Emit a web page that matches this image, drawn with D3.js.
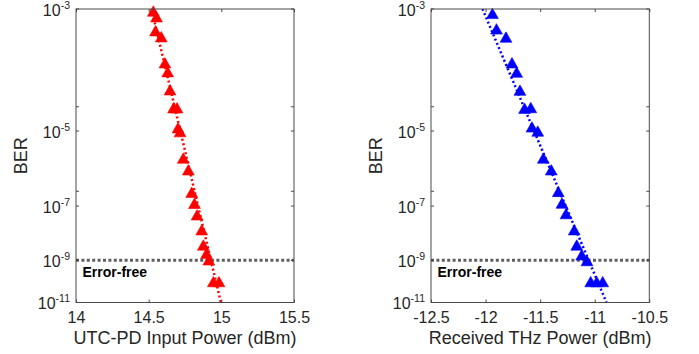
<!DOCTYPE html>
<html>
<head>
<meta charset="utf-8">
<script src="https://cdn.jsdelivr.net/npm/d3@7"></script>
<style>
  html, body { margin: 0; padding: 0; background: #fff; }
  svg { display: block; }
  text { font-family: "Liberation Sans", Arial, Helvetica, sans-serif; fill: #262626; }
</style>
</head>
<body>
<svg id="chart" width="699" height="354"></svg>
<script>
// ---------------- data ----------------
const leftPower = [14.532, 14.554, 14.547, 14.587, 14.612, 14.631, 14.647, 14.671, 14.695, 14.702, 14.716,
                   14.738, 14.773, 14.796, 14.815, 14.833, 14.865, 14.876, 14.898, 14.914, 14.945, 14.984];
const leftBER   = [9.4e-4, 8.0e-4, 5.3e-4, 4.4e-4, 1.83e-4, 1.32e-4, 6.5e-5, 3.0e-5, 3.0e-5, 1.17e-5, 9.6e-6,
                   2.3e-6, 1.14e-6, 2.65e-7, 1.21e-7, 5.1e-8, 1.54e-8, 4.1e-9, 1.9e-9, 1.02e-9, 1.08e-10, 1.08e-10];
const leftFitPower = [14.5195, 14.997];
const leftFitBER   = [1e-3, 1e-11];

const rightPower = [-11.937, -11.900, -11.813, -11.758, -11.715, -11.685, -11.643, -11.586, -11.575, -11.522, -11.471,
                    -11.398, -11.334, -11.300, -11.263, -11.188, -11.165, -11.119, -11.071, -11.037, -10.982, -10.927];
const rightBER   = [8.8e-4, 5.6e-4, 4.35e-4, 1.83e-4, 1.3e-4, 6.4e-5, 2.94e-5, 3.03e-5, 1.22e-5, 9.9e-6, 2.3e-6,
                    1.14e-6, 2.8e-7, 1.23e-7, 5.6e-8, 1.54e-8, 4.1e-9, 1.65e-9, 9.5e-10, 1.08e-10, 1.08e-10, 1.08e-10];
const rightFitPower = [-12.028, -10.892];
const rightFitBER   = [1e-3, 1e-11];

const leftXTicks  = [14, 14.5, 15, 15.5];
const rightXTicks = [-12.5, -12, -11.5, -11, -10.5];
const berTickExp  = [-3, -5, -7, -9, -11];
const minorTickQ  = [4, 5, 6];
const errorFreeBER = 1e-9;
const berDomain = [1e-3, 1e-11];

// -------- BER <-> Q-factor transform (y axis is log(Q)) --------
function erfc(x) {
  const z = Math.abs(x);
  const t = 1 / (1 + 0.5 * z);
  const r = t * Math.exp(-z * z - 1.26551223 + t * (1.00002368 + t * (0.37409196 + t * (0.09678418 +
            t * (-0.18628806 + t * (0.27886807 + t * (-1.13520398 + t * (1.48851587 +
            t * (-0.82215223 + t * 0.17087277)))))))));
  return x >= 0 ? r : 2 - r;
}
function qfunc(q) { return 0.5 * erfc(q / Math.SQRT2); }
function qOfBer(b) {
  let lo = 0, hi = 12;
  for (let i = 0; i < 80; i++) {
    const mid = (lo + hi) / 2;
    if (qfunc(mid) > b) lo = mid; else hi = mid;
  }
  return (lo + hi) / 2;
}

// ---------------- layout ----------------
const svg = d3.select("#chart");
const TOP = 9, BOTTOM = 302.5;
const panels = [
  { x0: 76, x1: 294, domain: [14, 15.5], ticks: leftXTicks, power: leftPower, ber: leftBER,
    fitP: leftFitPower, fitB: leftFitBER, color: "#ff0000", xlabel: "UTC-PD Input Power (dBm)", berX: 27 },
  { x0: 431, x1: 649.3, domain: [-12.5, -10.5], ticks: rightXTicks, power: rightPower, ber: rightBER,
    fitP: rightFitPower, fitB: rightFitBER, color: "#0000ff", xlabel: "Received THz Power (dBm)", berX: 382 }
];

const yLog = d3.scaleLog().domain(berDomain.map(qOfBer)).range([TOP, BOTTOM]);
const y = b => yLog(qOfBer(b));

panels.forEach((p, i) => {
  const x = d3.scaleLinear().domain(p.domain).range([p.x0, p.x1]);
  const g = svg.append("g");
  const clipId = "clip" + i;
  svg.append("clipPath").attr("id", clipId)
    .append("rect").attr("x", p.x0).attr("y", TOP).attr("width", p.x1 - p.x0).attr("height", BOTTOM - TOP);

  // error-free reference line
  g.append("line")
    .attr("x1", p.x0).attr("x2", p.x1)
    .attr("y1", y(errorFreeBER)).attr("y2", y(errorFreeBER))
    .attr("stroke", "#5f5f5f").attr("stroke-width", 3).attr("stroke-dasharray", "3,2.4");

  // fit line
  const line = d3.line().x((d, k) => x(p.fitP[k])).y((d, k) => y(p.fitB[k]));
  g.append("path").datum(p.fitP)
    .attr("clip-path", `url(#${clipId})`)
    .attr("d", line)
    .attr("fill", "none").attr("stroke", p.color).attr("stroke-width", 2.5)
    .attr("stroke-dasharray", "2,2.6");

  // markers
  const tri = "M0,-5.4L5.9,5L-5.9,5Z";
  g.selectAll("path.m").data(p.power).enter().append("path")
    .attr("class", "m")
    .attr("d", tri)
    .attr("transform", (d, k) => `translate(${x(d)},${y(p.ber[k])})`)
    .attr("fill", p.color).attr("stroke", p.color).attr("stroke-width", 0.6);

  // box
  const axColor = "#4a4a4a";
  g.append("rect").attr("x", p.x0).attr("y", TOP).attr("width", p.x1 - p.x0).attr("height", BOTTOM - TOP)
    .attr("fill", "none").attr("stroke", axColor).attr("stroke-width", 1);

  // x axis ticks (bottom with labels, top mirrored)
  const xAxis = d3.axisBottom(x).tickValues(p.ticks).tickSizeInner(-3).tickSizeOuter(0).tickPadding(9)
    .tickFormat(d => String(d));
  const xa = g.append("g").attr("transform", `translate(0,${BOTTOM})`).call(xAxis);
  xa.select(".domain").remove();
  xa.selectAll("line").attr("stroke", axColor);
  xa.selectAll("text").attr("font-size", 16).attr("fill", "#262626")
    .attr("font-family", "'Liberation Sans', Arial, sans-serif");
  const xTop = g.append("g").attr("transform", `translate(0,${TOP})`)
    .call(d3.axisTop(x).tickValues(p.ticks).tickSizeInner(-3).tickSizeOuter(0).tickFormat(""));
  xTop.select(".domain").remove();
  xTop.selectAll("line").attr("stroke", axColor);

  // y ticks (major + minor, both sides, inward)
  const majorB = berTickExp.map(e => Math.pow(10, e));
  const minorB = minorTickQ.map(qfunc);
  [...majorB, ...minorB].forEach(b => {
    const yy = y(b);
    g.append("line").attr("x1", p.x0).attr("x2", p.x0 + 3).attr("y1", yy).attr("y2", yy).attr("stroke", axColor);
    g.append("line").attr("x1", p.x1).attr("x2", p.x1 - 3).attr("y1", yy).attr("y2", yy).attr("stroke", axColor);
  });
  berTickExp.forEach(e => {
    const yy = y(Math.pow(10, e));
    const t = g.append("text").attr("x", p.x0 - 6).attr("y", yy + 6.5)
      .attr("text-anchor", "end").attr("font-size", 16);
    t.append("tspan").text("10");
    t.append("tspan").attr("font-size", 10.5).attr("dy", -7).text("-" + Math.abs(e));
  });

  // labels
  g.append("text").attr("x", (p.x0 + p.x1) / 2).attr("y", 344)
    .attr("text-anchor", "middle").attr("font-size", 18).text(p.xlabel);
  g.append("text").attr("transform", `translate(${p.berX},${(TOP + BOTTOM) / 2}) rotate(-90)`)
    .attr("text-anchor", "middle").attr("font-size", 18).text("BER");
  g.append("text").attr("x", p.x0 + 6.5).attr("y", 276.5)
    .attr("font-size", 14).attr("font-weight", "bold").style("fill", "#000")
    .text("Error-free");
});
</script>
</body>
</html>
